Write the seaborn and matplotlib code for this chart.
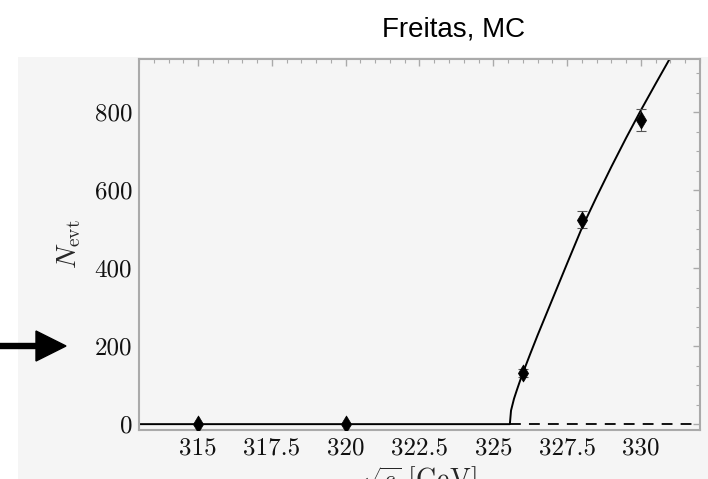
import matplotlib
matplotlib.use("Agg")
import matplotlib.pyplot as plt
from matplotlib.patches import Rectangle, FancyArrow
from matplotlib.ticker import MultipleLocator
import seaborn as sns
import pandas as pd

# data
point_x = [315, 320, 326, 328, 330]
point_y = [0, 0, 131, 524, 779]
point_err = [0, 0, 11, 22, 28]

curve_x = [313.0, 325.56, 325.6, 325.7, 325.8, 325.9, 326.0, 326.25, 326.5,
           327.0, 327.5, 328.0, 328.5, 329.0, 329.5, 330.0, 330.5, 331.0]
curve_y = [0, 0, 35, 65, 88, 110, 131, 180, 228,
           320, 412, 503, 583, 660, 734, 805, 873, 940]

dash_x = [325.56, 332.0]
dash_y = [0, 0]

x_ticks = [315, 317.5, 320, 322.5, 325, 327.5, 330]
x_tick_labels = ["315", "317.5", "320", "322.5", "325", "327.5", "330"]
y_ticks = [0, 200, 400, 600, 800]
y_tick_labels = ["0", "200", "400", "600", "800"]

sns.set_style("white")
plt.rcParams["font.family"] = ["cmr10", "DejaVu Serif"]
plt.rcParams["mathtext.fontset"] = "cm"
plt.rcParams["axes.formatter.use_mathtext"] = True

W, H = 708, 479
fig = plt.figure(figsize=(W / 100, H / 100), dpi=100)
fig.patch.set_facecolor("white")
bg = "#f5f5f5"
fig.add_artist(Rectangle((18 / W, 0), 1 - 18 / W, 1 - 57 / H,
                         transform=fig.transFigure, facecolor=bg,
                         edgecolor="none", zorder=0))

ax = fig.add_axes([139 / W, (H - 430) / H, (700 - 139) / W, (430 - 59) / H])
ax.set_facecolor(bg)

curve = pd.DataFrame({"x": curve_x, "y": curve_y})
dash = pd.DataFrame({"x": dash_x, "y": dash_y})
pts = pd.DataFrame({"x": point_x, "y": point_y, "e": point_err})

sns.lineplot(data=curve, x="x", y="y", ax=ax, color="black", lw=1.4,
             sort=False, estimator=None)
sns.lineplot(data=dash, x="x", y="y", ax=ax, color="black", lw=1.3,
             linestyle=(0, (6, 4.5)), estimator=None)
ax.errorbar(pts["x"], pts["y"], yerr=pts["e"], fmt="none", ecolor="#555555",
            elinewidth=0.8, capsize=3.5, capthick=0.8, zorder=3)
sns.scatterplot(data=pts, x="x", y="y", ax=ax, marker="d", s=75,
                color="black", edgecolor="black", linewidth=0.5, zorder=4)

ax.set_xlim(313.0, 332.0)
ax.set_ylim(-15, 936)
ax.set_xticks(x_ticks)
ax.set_xticklabels(x_tick_labels)
ax.set_yticks(y_ticks)
ax.set_yticklabels(y_tick_labels)
ax.xaxis.set_minor_locator(MultipleLocator(0.5))
ax.yaxis.set_minor_locator(MultipleLocator(50))

spc = "#aaaaaa"
for s in ax.spines.values():
    s.set_color(spc)
    s.set_linewidth(1.5)
ax.tick_params(which="both", direction="in", top=True, right=True,
               color=spc, labelsize=18, labelcolor="#111111")
ax.tick_params(which="major", length=5, width=1.0, pad=5)
ax.tick_params(which="minor", length=3, width=0.8)

ax.set_ylabel(r"$N_\mathrm{evt}$", fontsize=20, labelpad=8)
ax.set_xlabel(r"$\sqrt{s}\ [\mathrm{GeV}]$", fontsize=20, labelpad=4)

fig.text(454 / W, 1 - 30 / H, "Freitas, MC", ha="center", va="center",
         fontsize=20, family=["Liberation Sans", "DejaVu Sans"], color="black")

fig.add_artist(FancyArrow(0, 1 - 346 / H, 66 / W, 0, width=5 / H,
                          head_width=30 / H, head_length=30 / W,
                          length_includes_head=True, transform=fig.transFigure,
                          color="black", zorder=5))

fig.savefig("out.png", dpi=100)
